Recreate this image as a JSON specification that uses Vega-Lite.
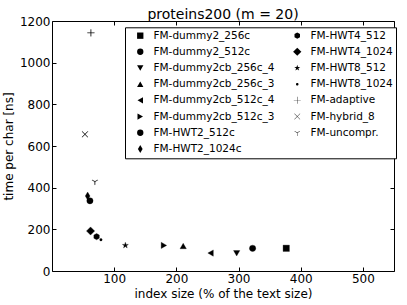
{
  "$schema": "https://vega.github.io/schema/vega-lite/v6.json",
  "width": 342,
  "height": 250,
  "autosize": "none",
  "padding": {"left": 52, "top": 21, "right": 13, "bottom": 34},
  "background": "white",
  "title": {"text": "proteins200 (m = 20)", "fontSize": 14, "font": "DejaVu Sans", "fontWeight": "normal", "color": "black", "offset": -7},
  "data": {"values": [
    {"s": "FM-dummy2_256c", "x": 376.7, "y": 109},
    {"s": "FM-dummy2_512c", "x": 322.6, "y": 109},
    {"s": "FM-dummy2cb_256c_4", "x": 297, "y": 85},
    {"s": "FM-dummy2cb_256c_3", "x": 211, "y": 120},
    {"s": "FM-dummy2cb_512c_4", "x": 255, "y": 86},
    {"s": "FM-dummy2cb_512c_3", "x": 180, "y": 123},
    {"s": "FM-HWT2_512c", "x": 61, "y": 337},
    {"s": "FM-HWT2_1024c", "x": 57.3, "y": 360},
    {"s": "FM-HWT4_512", "x": 71.7, "y": 165},
    {"s": "FM-HWT4_1024", "x": 62, "y": 192},
    {"s": "FM-HWT8_512", "x": 118, "y": 123},
    {"s": "FM-HWT8_1024", "x": 78.7, "y": 150},
    {"s": "FM-adaptive", "x": 62.6, "y": 1143},
    {"s": "FM-hybrid_8", "x": 53, "y": 656},
    {"s": "FM-uncompr.", "x": 69, "y": 429}
  ]},
  "layer": [
    {
      "mark": {"type": "point", "fill": "black", "stroke": "black", "strokeWidth": 0.3, "opacity": 1, "fillOpacity": 1, "strokeOpacity": 1, "size": 40},
      "encoding": {
        "x": {"field": "x", "type": "quantitative", "scale": {"domain": [0, 550], "nice": false}, "axis": {"title": "index size (% of the text size)", "values": [100, 200, 300, 400, 500], "format": "d", "orient": "bottom"}},
        "y": {"field": "y", "type": "quantitative", "scale": {"domain": [0, 1200], "nice": false}, "axis": {"title": "time per char [ns]", "values": [0, 200, 400, 600, 800, 1000, 1200], "format": "d", "orient": "left"}},
        "shape": {
          "field": "s", "type": "nominal",
          "scale": {
            "domain": ["FM-dummy2_256c", "FM-dummy2_512c", "FM-dummy2cb_256c_4", "FM-dummy2cb_256c_3", "FM-dummy2cb_512c_4", "FM-dummy2cb_512c_3", "FM-HWT2_512c", "FM-HWT2_1024c", "FM-HWT4_512", "FM-HWT4_1024", "FM-HWT8_512", "FM-HWT8_1024", "FM-adaptive", "FM-hybrid_8", "FM-uncompr."],
            "range": ["square", "circle", "triangle-down", "triangle-up", "triangle-left", "triangle-right", "circle", "M0,-1.25L0.75,0L0,1.25L-0.75,0Z", "M0,-1L0.866,-0.5L0.866,0.5L0,1L-0.866,0.5L-0.866,-0.5Z", "M0,-1.3L1.3,0L0,1.3L-1.3,0Z", "M0,-1L0.225,-0.309L0.951,-0.309L0.363,0.118L0.588,0.809L0,0.382L-0.588,0.809L-0.363,0.118L-0.951,-0.309L-0.225,-0.309Z", "M-0.4,0A0.4,0.4,0,1,0,0.4,0A0.4,0.4,0,1,0,-0.4,0Z", "M-1.1,-0.06H1.1V0.06H-1.1ZM-0.06,-1.1H0.06V1.1H-0.06Z", "M-0.86,-0.94L0.94,0.86L0.86,0.94L-0.94,-0.86ZM-0.94,0.86L0.86,-0.94L0.94,-0.86L-0.86,0.94Z", "M-0.06,0H0.06V1H-0.06ZM-0.03,0.052L-0.896,-0.448L-0.836,-0.552L0.03,-0.052ZM-0.03,-0.052L0.836,-0.552L0.896,-0.448L0.03,0.052Z"]
          },
          "legend": {
            "title": null, "orient": "none", "legendX": 73, "legendY": 6.3, "columns": 2, "columnPadding": 10, "rowPadding": 5.2,
            "strokeColor": "black", "fillColor": "white", "padding": 3, "cornerRadius": 0,
            "symbolSize": 40, "symbolOffset": 7, "symbolFillColor": "black", "symbolStrokeColor": "black", "symbolStrokeWidth": 0.3, "symbolOpacity": 1,
            "labelFont": "DejaVu Sans", "labelFontSize": 10.5, "labelColor": "black", "labelOffset": 8, "labelLimit": 300,
            "encode": {"symbols": {"update": {"fill": {"value": "black"}, "opacity": {"value": 1}}}}
          }
        }
      }
    },
    {
      "mark": {"type": "point", "opacity": 0},
      "encoding": {
        "x": {"field": "x", "type": "quantitative", "scale": {"domain": [0, 550], "nice": false}, "axis": {"title": null, "labels": false, "values": [100, 200, 300, 400, 500], "orient": "top"}},
        "y": {"field": "y", "type": "quantitative", "scale": {"domain": [0, 1200], "nice": false}, "axis": {"title": null, "labels": false, "values": [0, 200, 400, 600, 800, 1000, 1200], "orient": "right"}}
      }
    }
  ],
  "resolve": {"axis": {"x": "independent", "y": "independent"}},
  "config": {
    "view": {"stroke": "black", "strokeWidth": 1},
    "axis": {
      "grid": false, "domain": false, "tickColor": "black", "tickSize": -4, "labelPadding": 6,
      "labelFont": "DejaVu Sans", "labelFontSize": 12, "labelColor": "black",
      "titleFont": "DejaVu Sans", "titleFontSize": 12, "titleFontWeight": "normal", "titleColor": "black"
    },
    "axisX": {"titlePadding": 4},
    "axisY": {"titlePadding": 4}
  }
}
